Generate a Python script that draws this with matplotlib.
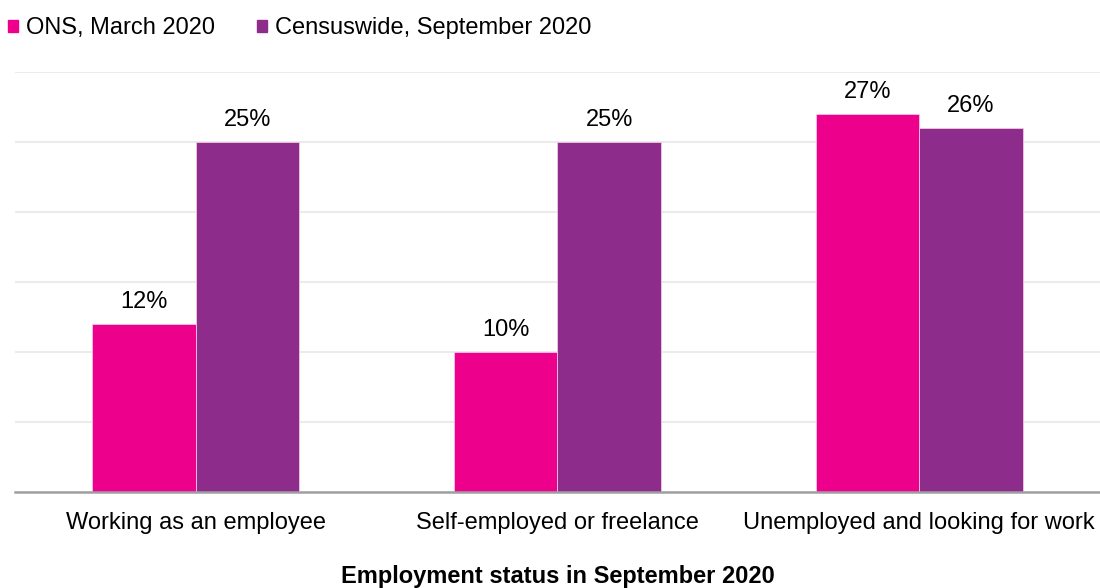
import numpy as np
import matplotlib.pyplot as plt
from matplotlib.patches import Patch

plt.rcParams['font.family'] = ['Liberation Sans', 'DejaVu Sans']

# survey results, percent of respondents
categories = ['Working as an employee', 'Self-employed or freelance',
              'Unemployed and looking for work']
series_names = ['ONS, March 2020', 'Censuswide, September 2020']
ons = [12, 10, 27]
censuswide = [25, 25, 26]
colors = ['#EC008C', '#8E2C8C']

fig = plt.figure(figsize=(11, 5.88), dpi=100)
ax = fig.add_axes([0.0136, 0.163, 0.9864, 0.7146])

x = np.arange(len(categories))
w = 0.286
for i, (vals, c) in enumerate(zip([ons, censuswide], colors)):
    bars = ax.bar(x + (i - 0.5) * w, vals, w, color=c, edgecolor='#f4c6e4',
                  linewidth=0.6, zorder=3)
    for b, v in zip(bars, vals):
        ax.annotate('%d%%' % v, (b.get_x() + b.get_width() / 2, v),
                    xytext=(0, 8), textcoords='offset points',
                    ha='center', va='bottom', fontsize=17)

ax.set_xlim(-0.5, 2.5)
ax.set_ylim(0, 30)
ax.set_yticks(np.arange(0, 31, 5))
ax.yaxis.grid(True, color='#ebebeb', linewidth=1.5, zorder=0)
ax.tick_params(axis='y', left=False, labelleft=False)
ax.tick_params(axis='x', length=0, pad=14, labelsize=17)
ax.set_xticks(x)
ax.set_xticklabels(categories)
for s in ['top', 'right', 'left']:
    ax.spines[s].set_visible(False)
ax.spines['bottom'].set_color('#a0a0a0')
ax.spines['bottom'].set_linewidth(1.8)
ax.spines['bottom'].set_zorder(4)

ax.set_xlabel('Employment status in September 2020', fontsize=17,
              fontweight='bold', labelpad=22.5)

handles = [Patch(color=c, label=n) for c, n in zip(colors, series_names)]
fig.legend(handles=handles, loc='center left', bbox_to_anchor=(0.0, 0.952),
           ncol=2, frameon=False, fontsize=17, handlelength=0.42,
           handleheight=0.42, handletextpad=0.35, columnspacing=1.75,
           borderaxespad=0, borderpad=0.35)

fig.savefig('out.png', dpi=100)
